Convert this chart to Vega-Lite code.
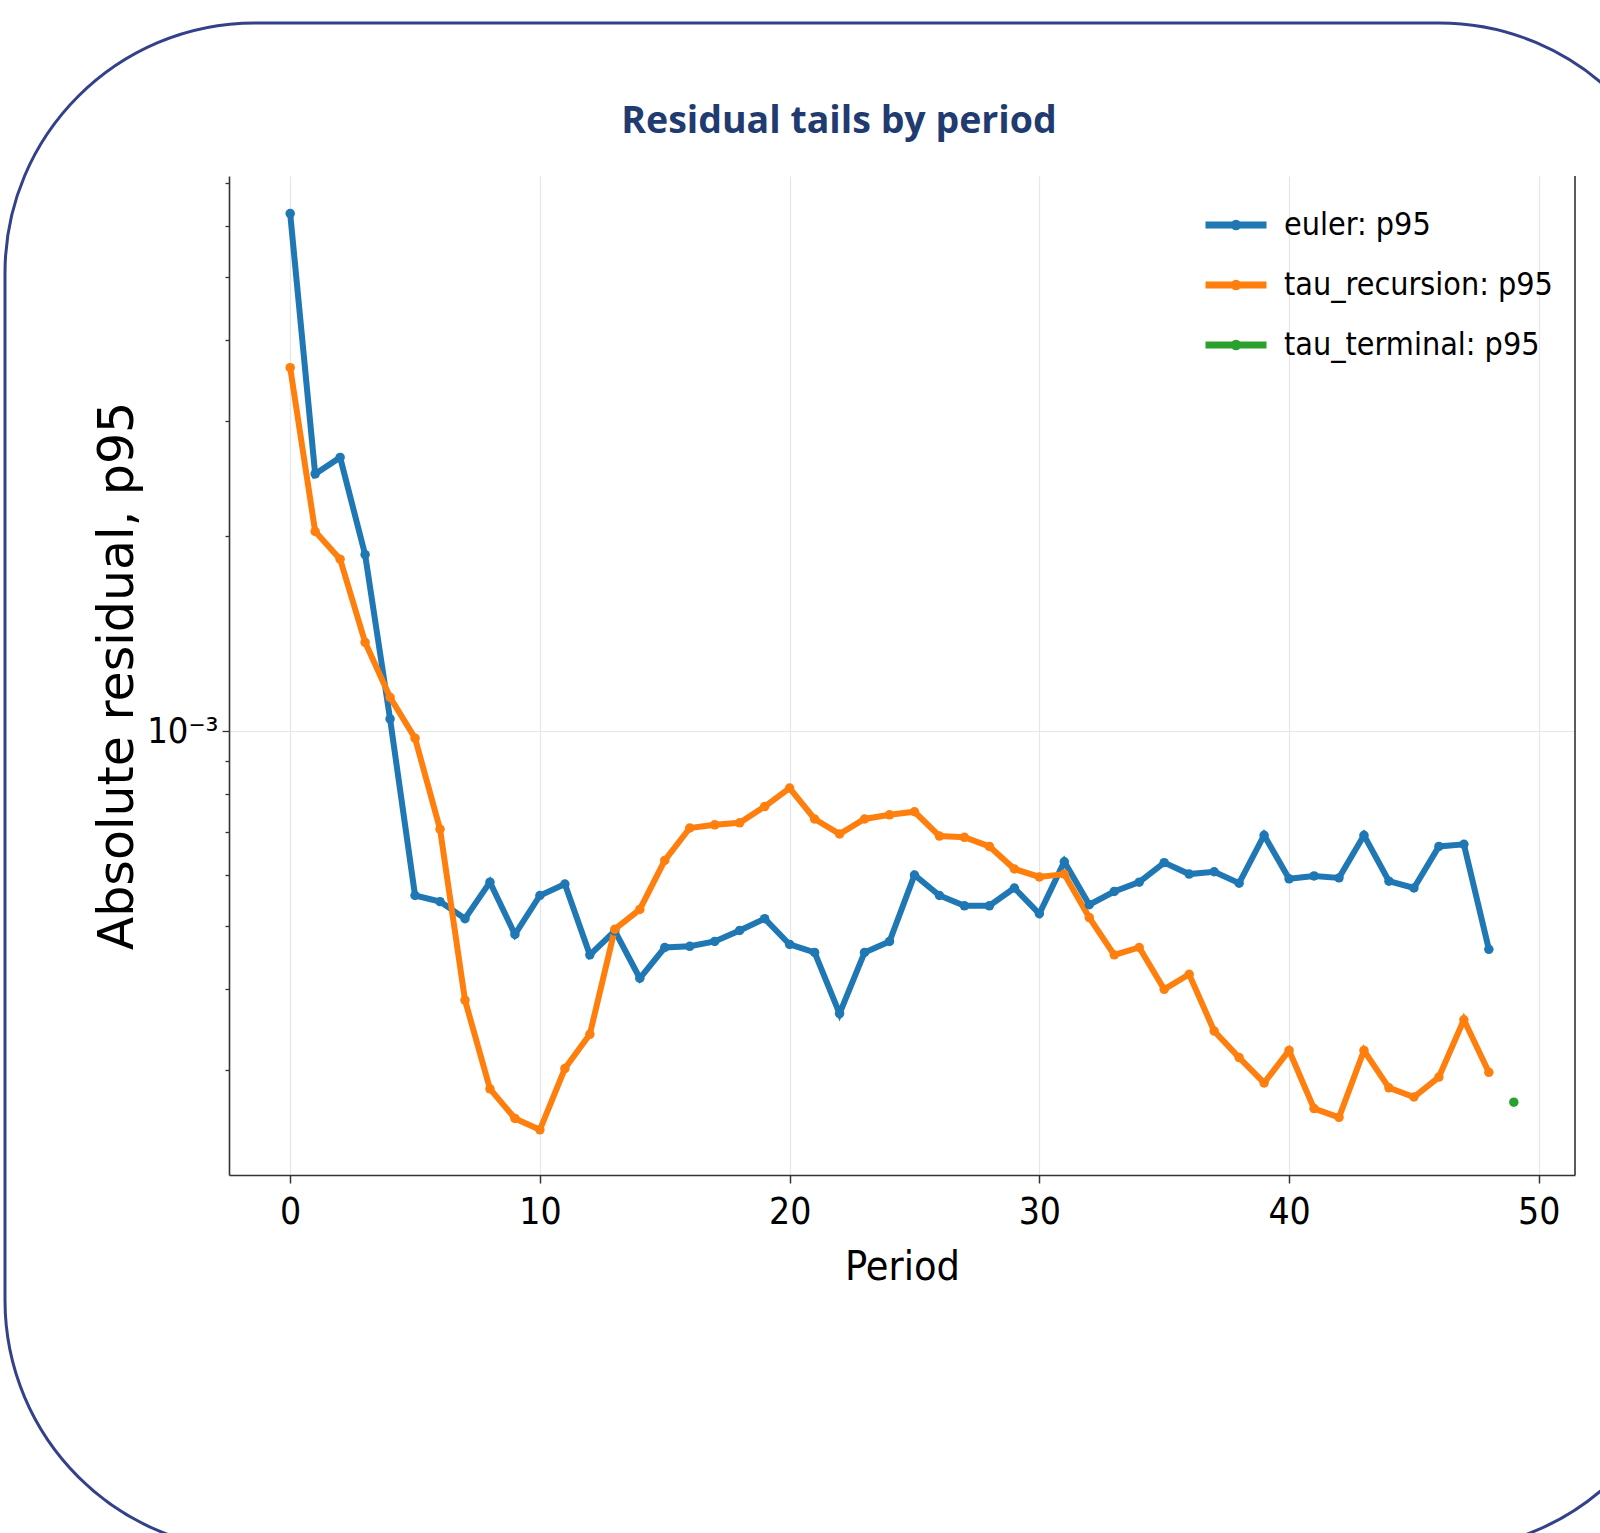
{
  "$schema": "https://vega.github.io/schema/vega-lite/v6.json",
  "width": 1346,
  "height": 999,
  "autosize": {"type": "none"},
  "padding": {"left": 229, "top": 176, "right": 25, "bottom": 358},
  "background": "white",
  "title": {
    "text": "Residual tails by period",
    "font": "Open Sans",
    "fontSize": 37.5,
    "fontWeight": "bold",
    "color": "#1f3b6f",
    "anchor": "middle",
    "frame": "group",
    "dx": -63,
    "offset": -119
  },
  "data": {
    "values": [
      {"period": 0, "series": "euler: p95", "value": 0.00627},
      {"period": 1, "series": "euler: p95", "value": 0.00249},
      {"period": 2, "series": "euler: p95", "value": 0.00264},
      {"period": 3, "series": "euler: p95", "value": 0.00187},
      {"period": 4, "series": "euler: p95", "value": 0.001044},
      {"period": 5, "series": "euler: p95", "value": 0.000558},
      {"period": 6, "series": "euler: p95", "value": 0.000546},
      {"period": 7, "series": "euler: p95", "value": 0.000514},
      {"period": 8, "series": "euler: p95", "value": 0.000585},
      {"period": 9, "series": "euler: p95", "value": 0.000486},
      {"period": 10, "series": "euler: p95", "value": 0.000558},
      {"period": 11, "series": "euler: p95", "value": 0.000581},
      {"period": 12, "series": "euler: p95", "value": 0.000452},
      {"period": 13, "series": "euler: p95", "value": 0.000492},
      {"period": 14, "series": "euler: p95", "value": 0.000416},
      {"period": 15, "series": "euler: p95", "value": 0.000464},
      {"period": 16, "series": "euler: p95", "value": 0.000466},
      {"period": 17, "series": "euler: p95", "value": 0.000474},
      {"period": 18, "series": "euler: p95", "value": 0.000493},
      {"period": 19, "series": "euler: p95", "value": 0.000514},
      {"period": 20, "series": "euler: p95", "value": 0.000469},
      {"period": 21, "series": "euler: p95", "value": 0.000456},
      {"period": 22, "series": "euler: p95", "value": 0.000367},
      {"period": 23, "series": "euler: p95", "value": 0.000456},
      {"period": 24, "series": "euler: p95", "value": 0.000474},
      {"period": 25, "series": "euler: p95", "value": 0.0006},
      {"period": 26, "series": "euler: p95", "value": 0.000558},
      {"period": 27, "series": "euler: p95", "value": 0.000538},
      {"period": 28, "series": "euler: p95", "value": 0.000538},
      {"period": 29, "series": "euler: p95", "value": 0.000573},
      {"period": 30, "series": "euler: p95", "value": 0.000523},
      {"period": 31, "series": "euler: p95", "value": 0.000629},
      {"period": 32, "series": "euler: p95", "value": 0.00054},
      {"period": 33, "series": "euler: p95", "value": 0.000566},
      {"period": 34, "series": "euler: p95", "value": 0.000585},
      {"period": 35, "series": "euler: p95", "value": 0.000627},
      {"period": 36, "series": "euler: p95", "value": 0.000602},
      {"period": 37, "series": "euler: p95", "value": 0.000607},
      {"period": 38, "series": "euler: p95", "value": 0.000583},
      {"period": 39, "series": "euler: p95", "value": 0.000691},
      {"period": 40, "series": "euler: p95", "value": 0.000592},
      {"period": 41, "series": "euler: p95", "value": 0.000598},
      {"period": 42, "series": "euler: p95", "value": 0.000594},
      {"period": 43, "series": "euler: p95", "value": 0.000691},
      {"period": 44, "series": "euler: p95", "value": 0.000587},
      {"period": 45, "series": "euler: p95", "value": 0.000573},
      {"period": 46, "series": "euler: p95", "value": 0.000664},
      {"period": 47, "series": "euler: p95", "value": 0.000669},
      {"period": 48, "series": "euler: p95", "value": 0.000461},
      {"period": 0, "series": "tau_recursion: p95", "value": 0.00363},
      {"period": 1, "series": "tau_recursion: p95", "value": 0.00203},
      {"period": 2, "series": "tau_recursion: p95", "value": 0.00184},
      {"period": 3, "series": "tau_recursion: p95", "value": 0.00137},
      {"period": 4, "series": "tau_recursion: p95", "value": 0.001127},
      {"period": 5, "series": "tau_recursion: p95", "value": 0.000975},
      {"period": 6, "series": "tau_recursion: p95", "value": 0.000706},
      {"period": 7, "series": "tau_recursion: p95", "value": 0.000385},
      {"period": 8, "series": "tau_recursion: p95", "value": 0.000281},
      {"period": 9, "series": "tau_recursion: p95", "value": 0.000253},
      {"period": 10, "series": "tau_recursion: p95", "value": 0.000243},
      {"period": 11, "series": "tau_recursion: p95", "value": 0.000302},
      {"period": 12, "series": "tau_recursion: p95", "value": 0.000341},
      {"period": 13, "series": "tau_recursion: p95", "value": 0.000495},
      {"period": 14, "series": "tau_recursion: p95", "value": 0.000531},
      {"period": 15, "series": "tau_recursion: p95", "value": 0.000632},
      {"period": 16, "series": "tau_recursion: p95", "value": 0.000709},
      {"period": 17, "series": "tau_recursion: p95", "value": 0.000717},
      {"period": 18, "series": "tau_recursion: p95", "value": 0.000722},
      {"period": 19, "series": "tau_recursion: p95", "value": 0.000765},
      {"period": 20, "series": "tau_recursion: p95", "value": 0.000817},
      {"period": 21, "series": "tau_recursion: p95", "value": 0.000732},
      {"period": 22, "series": "tau_recursion: p95", "value": 0.000694},
      {"period": 23, "series": "tau_recursion: p95", "value": 0.000732},
      {"period": 24, "series": "tau_recursion: p95", "value": 0.000743},
      {"period": 25, "series": "tau_recursion: p95", "value": 0.000751},
      {"period": 26, "series": "tau_recursion: p95", "value": 0.000689},
      {"period": 27, "series": "tau_recursion: p95", "value": 0.000686},
      {"period": 28, "series": "tau_recursion: p95", "value": 0.000664},
      {"period": 29, "series": "tau_recursion: p95", "value": 0.000613},
      {"period": 30, "series": "tau_recursion: p95", "value": 0.000596},
      {"period": 31, "series": "tau_recursion: p95", "value": 0.000602},
      {"period": 32, "series": "tau_recursion: p95", "value": 0.000516},
      {"period": 33, "series": "tau_recursion: p95", "value": 0.000452},
      {"period": 34, "series": "tau_recursion: p95", "value": 0.000464},
      {"period": 35, "series": "tau_recursion: p95", "value": 0.0004},
      {"period": 36, "series": "tau_recursion: p95", "value": 0.000422},
      {"period": 37, "series": "tau_recursion: p95", "value": 0.000345},
      {"period": 38, "series": "tau_recursion: p95", "value": 0.000314},
      {"period": 39, "series": "tau_recursion: p95", "value": 0.000287},
      {"period": 40, "series": "tau_recursion: p95", "value": 0.000322},
      {"period": 41, "series": "tau_recursion: p95", "value": 0.000262},
      {"period": 42, "series": "tau_recursion: p95", "value": 0.000254},
      {"period": 43, "series": "tau_recursion: p95", "value": 0.000322},
      {"period": 44, "series": "tau_recursion: p95", "value": 0.000282},
      {"period": 45, "series": "tau_recursion: p95", "value": 0.000273},
      {"period": 46, "series": "tau_recursion: p95", "value": 0.000293},
      {"period": 47, "series": "tau_recursion: p95", "value": 0.000359},
      {"period": 48, "series": "tau_recursion: p95", "value": 0.000298},
      {"period": 49, "series": "tau_terminal: p95", "value": 0.000268}
    ]
  },
  "layer": [
    {
      "data": {"values": [{}]},
      "mark": {"type": "rect", "filled": false, "stroke": "#33418a", "strokeWidth": 3, "cornerRadius": 250},
      "encoding": {
        "x": {"datum": -11.42, "type": "quantitative", "scale": {"domain": [-2.45, 51.45], "nice": false, "zero": false}},
        "x2": {"datum": 56.02},
        "y": {"datum": 0.01233, "type": "quantitative", "scale": {"type": "log", "domain": [0.000207, 0.007165], "nice": false}},
        "y2": {"datum": 0.0000547}
      }
    },
    {
      "mark": {"type": "line", "strokeWidth": 6, "point": {"filled": true, "size": 90}},
      "encoding": {
        "x": {
          "field": "period",
          "type": "quantitative",
          "scale": {"domain": [-2.45, 51.45], "nice": false, "zero": false},
          "axis": {
            "title": "Period",
            "values": [0, 10, 20, 30, 40, 50],
            "grid": true,
            "gridColor": "#e6e6e6",
            "gridWidth": 1.2,
            "domainColor": "#333333",
            "domainWidth": 1.6,
            "tickColor": "#333333",
            "tickWidth": 1.5,
            "tickSize": 8,
            "labelFont": "DejaVu Sans Condensed",
            "labelFontSize": 37,
            "labelColor": "#000000",
            "labelPadding": 11,
            "titleFont": "DejaVu Sans Condensed",
            "titleFontSize": 41,
            "titleFontWeight": "normal",
            "titleColor": "#000000",
            "titlePadding": 17
          }
        },
        "y": {
          "field": "value",
          "type": "quantitative",
          "scale": {"type": "log", "domain": [0.000207, 0.007165], "nice": false},
          "axis": {
            "title": "Absolute residual, p95",
            "values": [0.0002, 0.0003, 0.0004, 0.0005, 0.0006, 0.0007, 0.0008, 0.0009, 0.001, 0.002, 0.003, 0.004, 0.005, 0.006, 0.007],
            "labelExpr": "abs(datum.value - 0.001) < 1e-9 ? '10⁻³' : ''",
            "grid": true,
            "gridColor": "#e6e6e6",
            "gridWidth": 1.2,
            "gridOpacity": {"condition": {"test": "abs(datum.value - 0.001) < 1e-9", "value": 1}, "value": 0},
            "tickSize": {"condition": {"test": "abs(datum.value - 0.001) < 1e-9", "value": 7}, "value": 4},
            "domainColor": "#333333",
            "domainWidth": 1.6,
            "tickColor": "#333333",
            "tickWidth": 1.3,
            "labelFont": "DejaVu Sans Condensed",
            "labelFontSize": 36,
            "labelColor": "#000000",
            "labelPadding": 4,
            "labelOverlap": false,
            "titleFont": "DejaVu Sans",
            "titleFontSize": 49,
            "titleFontWeight": "normal",
            "titleColor": "#000000",
            "titlePadding": 4
          }
        },
        "color": {
          "field": "series",
          "type": "nominal",
          "scale": {
            "domain": ["euler: p95", "tau_recursion: p95", "tau_terminal: p95"],
            "range": ["#1f77b4", "#ff7f0e", "#2ca02c"]
          },
          "legend": {
            "title": null,
            "orient": "none",
            "legendX": 973,
            "legendY": 15,
            "padding": 0,
            "rowPadding": 10,
            "symbolType": "M-1,0H1M-0.06,0A0.06,0.06,0,1,0,0.06,0A0.06,0.06,0,1,0,-0.06,0",
            "symbolSize": 3721,
            "symbolStrokeWidth": 7,
            "labelFont": "DejaVu Sans Condensed",
            "labelFontSize": 32,
            "labelColor": "#000000",
            "labelOffset": 14,
            "labelLimit": 0
          }
        }
      }
    },
    {
      "data": {"values": [{}]},
      "mark": {"type": "rule", "color": "#333333", "strokeWidth": 1.6},
      "encoding": {
        "x": {"datum": 51.45, "type": "quantitative"}
      }
    }
  ],
  "config": {
    "view": {"stroke": null},
    "axis": {"labelFlush": false}
  }
}
